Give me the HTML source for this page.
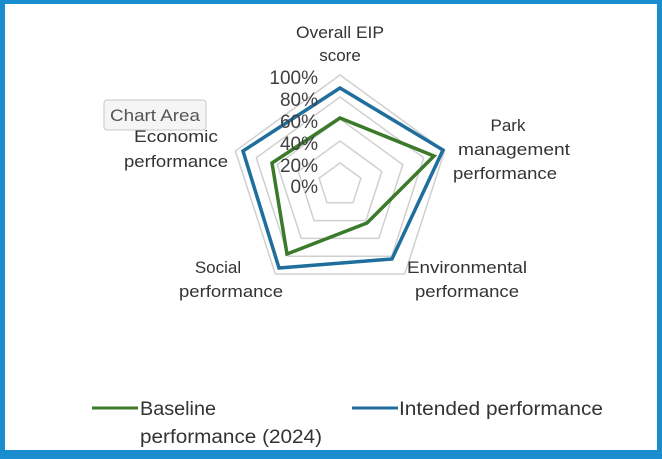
<!DOCTYPE html>
<html><head><meta charset="utf-8"><style>
body{margin:0;background:#fff;}
</style></head><body>
<div style="position:relative;width:662px;height:459px;overflow:hidden;">
<svg width="662" height="459" style="position:absolute;left:0;top:0" font-family="Liberation Sans, sans-serif">
<rect x="0" y="0" width="662" height="459" fill="#1a8dcf"/>
<rect x="5" y="4" width="652" height="446" fill="#fff"/>
<g fill="none" stroke="#d0d0d0" stroke-width="1.5">
<polygon points="340,75 444.6,151 404.7,274 275.3,274 235.4,151"/>
<polygon points="340,97 423.7,157.8 391.7,256.2 288.3,256.2 256.3,157.8"/>
<polygon points="340,119 402.8,164.6 378.8,238.4 301.2,238.4 277.2,164.6"/>
<polygon points="340,141 381.8,171.4 365.9,220.6 314.1,220.6 298.2,171.4"/>
<polygon points="340,163 360.9,178.2 352.9,202.8 327.1,202.8 319.1,178.2"/>
</g>
<polygon points="340,88 443,150 392,259 279,268 243,151" fill="none" stroke="#1f6e9c" stroke-width="3.5"/>
<polygon points="340,118 434,156 367,223 287,254 272,163" fill="none" stroke="#3a7a2a" stroke-width="3.5"/>
<g font-size="19" fill="#404040" text-anchor="end">
<text x="318" y="84">100%</text><text x="318" y="106">80%</text><text x="318" y="128">60%</text>
<text x="318" y="150">40%</text><text x="318" y="172">20%</text><text x="318" y="193">0%</text>
</g>
<g font-size="17" fill="#333" text-anchor="middle">
<text x="340" y="38" textLength="88" lengthAdjust="spacingAndGlyphs">Overall EIP</text><text x="340" y="61">score</text>
<text x="508" y="131">Park</text><text x="514" y="155" textLength="112" lengthAdjust="spacingAndGlyphs">management</text><text x="505" y="179" textLength="104" lengthAdjust="spacingAndGlyphs">performance</text>
<text x="467" y="273" textLength="120" lengthAdjust="spacingAndGlyphs">Environmental</text><text x="467" y="297" textLength="104" lengthAdjust="spacingAndGlyphs">performance</text>
<text x="218" y="273">Social</text><text x="231" y="297" textLength="104" lengthAdjust="spacingAndGlyphs">performance</text>
<text x="176" y="142" textLength="84" lengthAdjust="spacingAndGlyphs">Economic</text><text x="176" y="167" textLength="104" lengthAdjust="spacingAndGlyphs">performance</text>
</g>
<rect x="104" y="100" width="102" height="30" rx="3" fill="#f5f5f5" stroke="#c8c8c8"/>
<text x="155" y="121" font-size="17" fill="#555" text-anchor="middle" textLength="90" lengthAdjust="spacingAndGlyphs">Chart Area</text>
<line x1="92" y1="408" x2="138" y2="408" stroke="#3a7a2a" stroke-width="3"/>
<line x1="352" y1="408" x2="398" y2="408" stroke="#1f6e9c" stroke-width="3"/>
<g font-size="19" fill="#333">
<text x="140" y="415" textLength="76" lengthAdjust="spacingAndGlyphs">Baseline</text><text x="140" y="443" textLength="182" lengthAdjust="spacingAndGlyphs">performance (2024)</text>
<text x="399" y="415" textLength="204" lengthAdjust="spacingAndGlyphs">Intended performance</text>
</g>
</svg>
</div>
</body></html>
